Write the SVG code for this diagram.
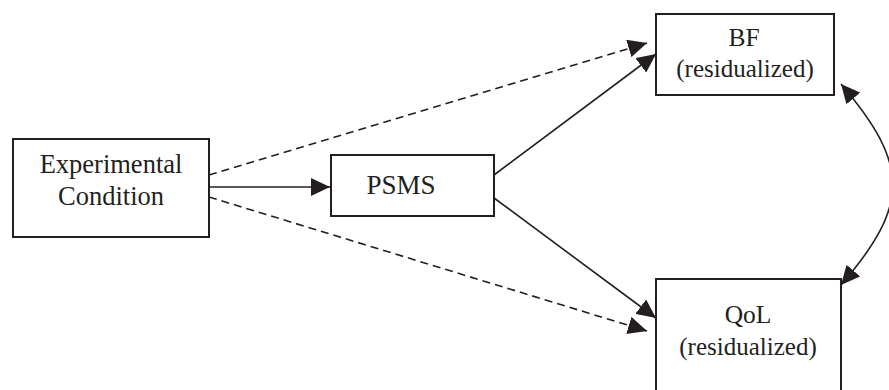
<svg xmlns="http://www.w3.org/2000/svg" width="889" height="390" viewBox="0 0 889 390">
  <style>
    .box { fill: #ffffff; stroke: #231f20; stroke-width: 2; }
    .lbl { font-family: "Liberation Serif", "Times New Roman", serif; fill: #231f20; text-anchor: middle; }
    .edge { fill: none; stroke: #231f20; stroke-width: 1.6; }
    .dash { stroke-dasharray: 8 5; }
  </style>
  <defs>
    <marker id="head" markerUnits="userSpaceOnUse" markerWidth="20" markerHeight="18" refX="19" refY="9" orient="auto-start-reverse">
      <path d="M0,0 L19,9 L0,18 Z" fill="#231f20"/>
    </marker>
  </defs>
  <rect width="889" height="390" fill="#ffffff"/>

  <g id="connectors">
    <line class="edge" x1="209" y1="187" x2="330" y2="187" marker-end="url(#head)"/>
    <line class="edge dash" x1="209" y1="175" x2="647" y2="43" marker-end="url(#head)"/>
    <line class="edge dash" x1="209" y1="197" x2="647" y2="331" marker-end="url(#head)"/>
    <line class="edge" x1="494" y1="175" x2="656" y2="54" marker-end="url(#head)"/>
    <line class="edge" x1="494" y1="198" x2="656" y2="318" marker-end="url(#head)"/>
    <path class="edge" d="M841,84 C910,165 910,205 841,285" marker-start="url(#head)" marker-end="url(#head)"/>
  </g>

  <g id="experimental-condition">
    <rect class="box" x="13" y="139" width="196" height="98"/>
    <text class="lbl" x="111" y="173" font-size="26.5">Experimental</text>
    <text class="lbl" x="111" y="205" font-size="26.5">Condition</text>
  </g>

  <g id="psms">
    <rect class="box" x="331" y="155" width="163" height="61"/>
    <text class="lbl" x="401" y="194" font-size="27">PSMS</text>
  </g>

  <g id="bf">
    <rect class="box" x="656" y="14" width="178" height="81"/>
    <text class="lbl" x="744" y="46" font-size="25.5">BF</text>
    <text class="lbl" x="745" y="77" font-size="25">(residualized)</text>
  </g>

  <g id="qol">
    <rect class="box" x="656" y="279" width="185" height="120"/>
    <text class="lbl" x="748" y="323" font-size="25.5">QoL</text>
    <text class="lbl" x="748" y="355" font-size="25">(residualized)</text>
  </g>
</svg>
